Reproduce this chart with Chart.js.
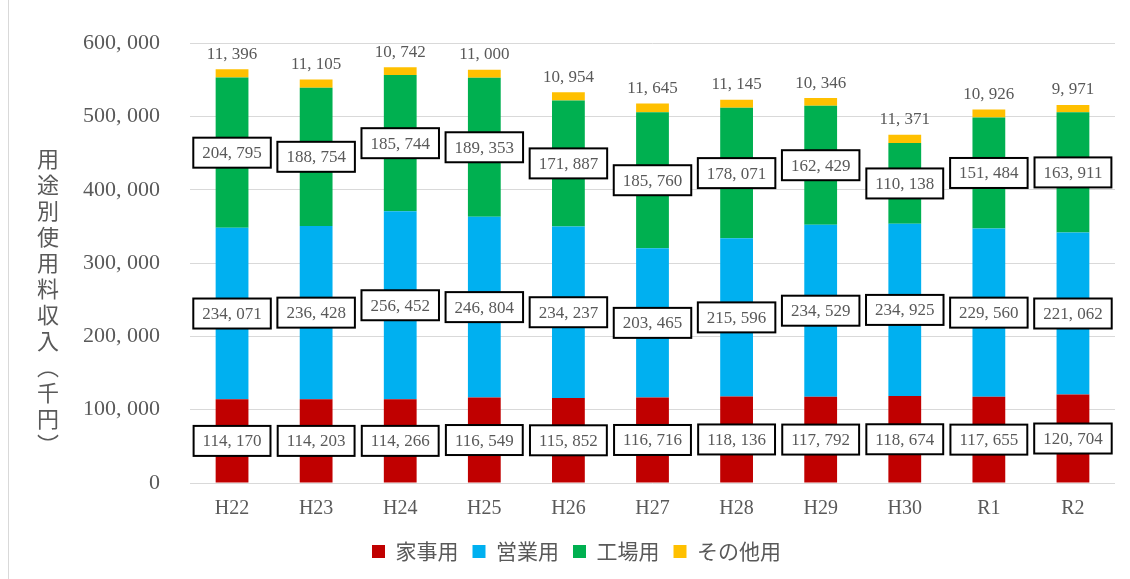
<!DOCTYPE html>
<html>
<head>
<meta charset="utf-8">
<script src="https://cdn.jsdelivr.net/npm/chart.js@4"></script>
<style>
  html, body { margin: 0; padding: 0; background: #fff; }
  #wrap { position: relative; width: 1130px; height: 579px; }
  #frame { position: absolute; left: 8px; top: 0; width: 1px; height: 579px; background: #d9d9d9; }
  #ytitle {
    position: absolute; left: 32px; top: 148px; height: 320px;
    writing-mode: vertical-rl; font-family: "Noto Sans CJK JP"; font-size: 22px;
    color: #595959; letter-spacing: 4px;
  }
</style>
</head>
<body>
<div id="wrap">
  <div id="frame"></div>
  <canvas id="chartUsoBetsu" width="1130" height="579"></canvas>
  <div id="ytitle">用途別使用料収入（千円）</div>
</div>
<script>
const categories = ['H22', 'H23', 'H24', 'H25', 'H26', 'H27', 'H28', 'H29', 'H30', 'R1', 'R2'];
const kajiyou = [114170, 114203, 114266, 116549, 115852, 116716, 118136, 117792, 118674, 117655, 120704];
const eigyouyou = [234071, 236428, 256452, 246804, 234237, 203465, 215596, 234529, 234925, 229560, 221062];
const koujouyou = [204795, 188754, 185744, 189353, 171887, 185760, 178071, 162429, 110138, 151484, 163911];
const sonotayou = [11396, 11105, 10742, 11000, 10954, 11645, 11145, 10346, 11371, 10926, 9971];

const numFont = '"Liberation Serif", serif';
const fmt = v => v.toLocaleString('en-US').replace(/,/g, ', ');

// ラベル（枠付き）
const boxLabels = {
    id: 'boxLabels',
    afterLayout(chart) {
        // 凡例を少し右へ
        chart.legend.left += 19;
        chart.legend.right += 19;
    },
    afterDatasetsDraw(chart) {
        const ctx = chart.ctx;
        ctx.save();
        ctx.font = '17px ' + numFont;
        ctx.textAlign = 'center';
        ctx.textBaseline = 'middle';
        chart.data.datasets.forEach((ds, i) => {
            chart.getDatasetMeta(i).data.forEach((bar, j) => {
                const txt = fmt(ds.data[j]);
                if (i === 3) {
                    ctx.fillStyle = '#595959';
                    ctx.fillText(txt, bar.x, bar.y - 15);
                    return;
                }
                const cy = (bar.y + bar.base) / 2;
                const w = ctx.measureText(txt).width + 18;
                const h = 30;
                ctx.fillStyle = '#fff';
                ctx.fillRect(bar.x - w / 2, cy - h / 2, w, h);
                ctx.lineWidth = 2;
                ctx.strokeStyle = '#000';
                ctx.strokeRect(bar.x - w / 2, cy - h / 2, w, h);
                ctx.fillStyle = '#595959';
                ctx.fillText(txt, bar.x, cy + 1);
            });
        });
        ctx.restore();
    }
};

const dataUsoBetsu = {
    labels: categories,
    datasets: [
        { label: '家事用', data: kajiyou, backgroundColor: '#C00000' },
        { label: '営業用', data: eigyouyou, backgroundColor: '#00B0F0' },
        { label: '工場用', data: koujouyou, backgroundColor: '#00B050' },
        { label: 'その他用', data: sonotayou, backgroundColor: '#FFC000' }
    ]
};

const optionsUsoBetsu = {
    responsive: false,
    animation: false,
    datasets: { bar: { barPercentage: 0.39, categoryPercentage: 1 } },
    layout: { padding: { top: 26, right: 15, bottom: 7, left: 0 } },
    scales: {
        x: {
            stacked: true,
            grid: { display: false },
            border: { display: false },
            ticks: { color: '#595959', font: { family: numFont, size: 20 }, padding: 6 }
        },
        y: {
            stacked: true,
            min: 0,
            max: 600000,
            grid: { color: '#d9d9d9', drawTicks: false },
            border: { display: false },
            ticks: {
                stepSize: 100000,
                color: '#595959',
                font: { family: numFont, size: 22 },
                padding: 30,
                callback: v => fmt(v)
            },
            afterFit(scale) { scale.width = 190; }
        }
    },
    plugins: {
        legend: {
            position: 'bottom',
            labels: {
                color: '#595959',
                font: { family: '"Noto Sans CJK JP"', size: 21 },
                boxWidth: 13,
                boxHeight: 13,
                padding: 14
            }
        },
        tooltip: { enabled: false }
    }
};

new Chart(document.getElementById('chartUsoBetsu'), {
    type: 'bar',
    data: dataUsoBetsu,
    options: optionsUsoBetsu,
    plugins: [boxLabels]
});
</script>
</body>
</html>
